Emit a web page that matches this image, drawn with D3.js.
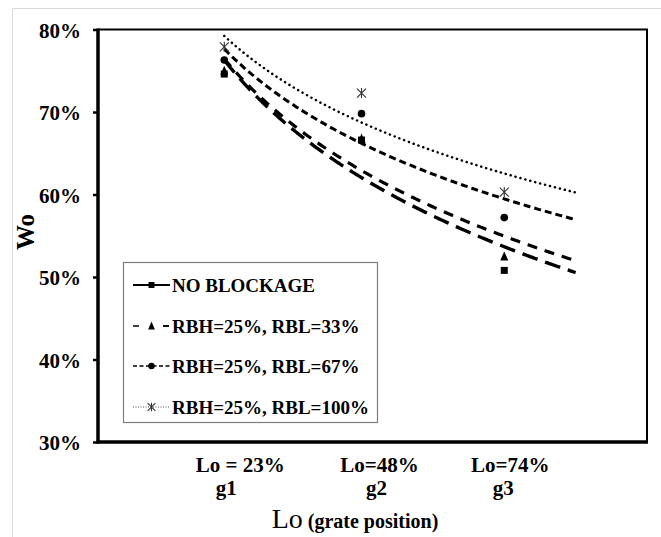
<!DOCTYPE html>
<html><head><meta charset="utf-8">
<script src="https://cdn.jsdelivr.net/npm/d3@7"></script>
<style>body{margin:0;background:#fff}svg{display:block}text{font-family:"Liberation Serif","Times New Roman",serif;font-weight:bold;fill:#000}</style>
</head><body>
<script>
// ---- data ----
const loValues = [0.23, 0.48, 0.74];
const xTickTop = ["Lo = 23%", "Lo=48%", "Lo=74%"];
const xTickBottom = ["g1", "g2", "g3"];
const yTicks = [0.3, 0.4, 0.5, 0.6, 0.7, 0.8];
const seriesNames = ["NO BLOCKAGE", "RBH=25%, RBL=33%", "RBH=25%, RBL=67%", "RBH=25%, RBL=100%"];
const noBlockage = [0.746, 0.666, 0.508];
const rbl33 = [0.750, 0.668, 0.525];
const rbl67 = [0.763, 0.698, 0.572];
const rbl100 = [0.779, 0.723, 0.603];
const trendEnd = 0.87;

const W = 661, H = 537;
const svg = d3.select("body").append("svg").attr("width", W).attr("height", H);
svg.append("rect").attr("width", W).attr("height", H).attr("fill", "#fff");
// outer light frame
svg.append("path").attr("d", `M12.5,${H} V8.5 H${W}`).attr("fill", "none").attr("stroke", "#d9d9d9").attr("stroke-width", 1);

const x = d3.scaleLinear().domain([0, 1]).range([98, 647]);
const y = d3.scaleLinear().domain([0.3, 0.8]).range([442, 29.5]);

// plot frame (top/right thinner)
svg.append("path").attr("d", `M${x(0)},${y(0.8)} H${x(1)} V${y(0.3)}`).attr("fill", "none").attr("stroke", "#000").attr("stroke-width", 2);

const series = [
  {name: seriesNames[0], vals: noBlockage, marker: "square", trendDash: "16,8", trendW: 3.4, legDash: null, legW: 2},
  {name: seriesNames[1], vals: rbl33, marker: "triangle", trendDash: "10,8", trendW: 3.2, legDash: "6,11", legW: 1.6},
  {name: seriesNames[2], vals: rbl67, marker: "circle", trendDash: "7,4", trendW: 3, legDash: "4,2.5", legW: 1.6},
  {name: seriesNames[3], vals: rbl100, marker: "star", trendDash: "0.1,5", trendW: 2.5, legDash: "1,1.5", legW: 1}
];

// log trendlines fitted to the data
function logFit(xs, ys) {
  const lx = xs.map(Math.log);
  const mx = d3.mean(lx), my = d3.mean(ys);
  let sxy = 0, sxx = 0;
  lx.forEach((v, i) => { sxy += (v - mx) * (ys[i] - my); sxx += (v - mx) * (v - mx); });
  const a = sxy / sxx, b = my - a * mx;
  return t => a * Math.log(t) + b;
}
const line = d3.line().x(d => x(d[0])).y(d => y(d[1]));
series.forEach(s => {
  const f = logFit(loValues, s.vals);
  const pts = d3.range(0, 201).map(i => { const t = loValues[0] + (trendEnd - loValues[0]) * i / 200; return [t, f(t)]; });
  svg.append("path").attr("d", line(pts)).attr("fill", "none").attr("stroke", "#000")
    .attr("stroke-width", s.trendW).attr("stroke-dasharray", s.trendDash)
    .attr("stroke-linecap", s.marker === "star" ? "round" : "butt");
});

function drawMarker(g, type, cx, cy, scale) {
  scale = scale || 1;
  if (type === "square") {
    const s = 7 * scale;
    g.append("rect").attr("x", cx - s / 2).attr("y", cy - s / 2).attr("width", s).attr("height", s).attr("fill", "#000");
  } else if (type === "triangle") {
    const s = 8 * scale;
    g.append("path").attr("d", `M${cx},${cy - s / 2 - 1} L${cx + s / 2},${cy + s / 2} L${cx - s / 2},${cy + s / 2} Z`).attr("fill", "#000");
  } else if (type === "circle") {
    g.append("circle").attr("cx", cx).attr("cy", cy).attr("r", 3.8 * scale).attr("fill", "#000");
  } else if (type === "star") {
    const r = 4.5 * scale;
    g.append("path").attr("d", `M${cx - r},${cy - r} L${cx + r},${cy + r} M${cx - r},${cy + r} L${cx + r},${cy - r} M${cx},${cy - r - 0.5} L${cx},${cy + r + 0.5}`)
      .attr("stroke", "#333").attr("stroke-width", 1.1).attr("fill", "none");
  }
}
const mg = svg.append("g");
[3, 2, 1, 0].forEach(k => {
  const s = series[k];
  s.vals.forEach((v, i) => drawMarker(mg, s.marker, x(loValues[i]), y(v)));
});

// axes
const yAxis = d3.axisLeft(y).tickValues(yTicks).tickSize(5).tickFormat(d3.format(".0%"));
const ya = svg.append("g").attr("transform", `translate(${x(0)},0)`).call(yAxis);
ya.attr("font-family", null).attr("font-size", null);
ya.select(".domain").attr("stroke", "#000").attr("stroke-width", 3.5).attr("d", `M0,${y(0.8) - 1}V${y(0.3) + 1.5}`);
ya.selectAll(".tick line").attr("stroke", "#000").attr("stroke-width", 2.5);
ya.selectAll(".tick text").attr("x", -17).attr("dy", "0.36em").style("font-size", "21px");

svg.append("line").attr("x1", x(0) - 1.5).attr("x2", x(1) + 1).attr("y1", y(0.3)).attr("y2", y(0.3)).attr("stroke", "#000").attr("stroke-width", 3.5);

// x category labels
const topOff = [16, 18, 6], botOff = [2, 15, -1];
loValues.forEach((v, i) => {
  svg.append("text").attr("x", x(v) + topOff[i]).attr("y", 472).attr("text-anchor", "middle").style("font-size", "21px").text(xTickTop[i]);
  svg.append("text").attr("x", x(v) + botOff[i]).attr("y", 495).attr("text-anchor", "middle").style("font-size", "21px").text(xTickBottom[i]);
});

// axis titles
const xt = svg.append("text").attr("x", 355).attr("y", 528).attr("text-anchor", "middle");
xt.append("tspan").style("font-size", "28px").style("font-weight", "normal").text("Lo");
xt.append("tspan").style("font-size", "20px").text(" (grate position)");
svg.append("text").attr("transform", "translate(34,232) rotate(-90)").attr("text-anchor", "middle").style("font-size", "25px").text("Wo");

// legend
const lg = svg.append("g");
lg.append("rect").attr("x", 123.5).attr("y", 262.5).attr("width", 254).attr("height", 160).attr("fill", "#fff").attr("stroke", "#7f7f7f").attr("stroke-width", 1.2);
const legY = [285, 326, 366, 407];
series.forEach((s, i) => {
  const cy = legY[i];
  const ln = lg.append("line").attr("x1", 133).attr("x2", 170).attr("y1", cy).attr("y2", cy)
    .attr("stroke", s.marker === "star" ? "#555" : "#000").attr("stroke-width", s.legW);
  if (s.legDash) ln.attr("stroke-dasharray", s.legDash);
  if (s.marker === "triangle") {
    ln.attr("stroke-dasharray", "6,24");
    lg.append("line").attr("x1", 163).attr("x2", 169).attr("y1", cy).attr("y2", cy).attr("stroke", "#000").attr("stroke-width", 1.6);
  }
  drawMarker(lg, s.marker, 151.5, cy, 0.85);
  lg.append("text").attr("x", 172).attr("y", cy).attr("dy", "0.35em").style("font-size", "19px").text(s.name);
});
</script>
</body></html>
